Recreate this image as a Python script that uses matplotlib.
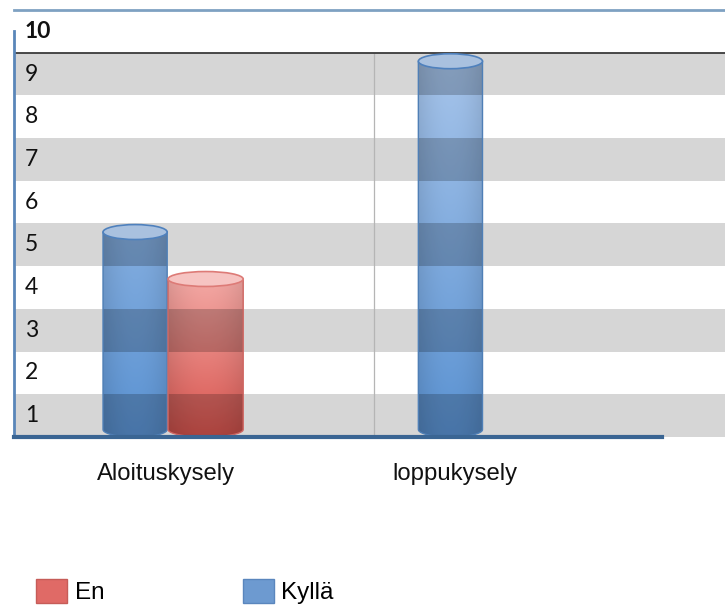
import numpy as np
import matplotlib
matplotlib.use("Agg")
import matplotlib.pyplot as plt
from matplotlib.path import Path
from matplotlib.patches import Ellipse, Rectangle, PathPatch, Patch
from matplotlib.colors import to_rgb
import matplotlib.transforms as mtransforms

# ---------------- data ----------------
categories = ["Aloituskysely", "loppukysely"]
series_names = ["En", "Kyllä"]
kylla_values = [5.3, 9.3]
en_values = [4.2]          # only the first survey has an "En" bar
y_tick_values = [1, 2, 3, 4, 5, 6, 7, 8, 9, 10]
y_tick_labels = ["1", "2", "3", "4", "5", "6", "7", "8", "9", "10"]

# ---------------- layout / style ----------------
W, H = 725, 610
fig = plt.figure(figsize=(W / 100, H / 100), dpi=100)
ax = fig.add_axes([14 / W, 173 / H, 711 / W, 427 / H])
BASE = 0.5
YTOP = 10.5
XL, XR = -0.526, 1.934
ax.set_xlim(XL, XR)
ax.set_ylim(BASE, YTOP)

grey = "#d6d6d6"
for k in y_tick_values:
    ax.axhspan(k - 0.5, k + 0.5, color=grey if k % 2 == 1 else "white", lw=0, zorder=0)
ax.axhline(9.5, color="#3a3a3a", lw=1.3, zorder=2)
ax.vlines(0.72, BASE, 9.5, color="#b5b5b5", lw=0.9, zorder=1)

ax.spines["right"].set_visible(False)
ax.spines["top"].set_color("#7ea1c2")
ax.spines["top"].set_linewidth(2)
ax.spines["left"].set_color("#5a86b9")
ax.spines["left"].set_linewidth(2)
ax.spines["left"].set_bounds(BASE, 10.0)
ax.spines["bottom"].set_color("#3a6593")
ax.spines["bottom"].set_linewidth(3)
ax.spines["bottom"].set_bounds(XL, 1.716)
ax.spines["bottom"].set_zorder(6)

ax.set_yticks([])
ax.set_xticks(range(len(categories)))
ax.set_xticklabels(categories, fontsize=17.2, family="Liberation Sans", color="#111111")
ax.tick_params(axis="x", length=0, pad=19)

ytr = mtransforms.blended_transform_factory(ax.transAxes, ax.transData)
for v, lab in zip(y_tick_values, y_tick_labels):
    ax.text(11 / 711, v, lab, transform=ytr, ha="left", va="center",
            fontsize=16.5, family="Lato", color="#111111",
            fontweight="bold" if v == 10 else "normal", zorder=7)

EH = 0.35  # ellipse height in data units


def cylinder(xc, w, top, c_low, c_high, span_top, edge, cap_face, cap_edge):
    x0, x1 = xc - w / 2, xc + w / 2
    cy = BASE + EH / 2
    th = np.linspace(np.pi, 2 * np.pi, 40)
    verts = [(x0, top), (x0, cy)]
    verts += [(xc + w / 2 * np.cos(t), cy + EH / 2 * np.sin(t)) for t in th]
    verts += [(x1, top), (x0, top)]
    codes = [Path.MOVETO] + [Path.LINETO] * (len(verts) - 2) + [Path.CLOSEPOLY]
    path = Path(verts, codes)
    ny, nx = 200, 60
    yy = np.linspace(BASE, top, ny)[:, None]
    xx = np.linspace(-1, 1, nx)[None, :]
    f = np.clip((yy - BASE) / (span_top - BASE), 0, 1)
    lo, hi = np.array(to_rgb(c_low)), np.array(to_rgb(c_high))
    img = lo[None, None, :] * (1 - f[..., None]) + hi[None, None, :] * f[..., None]
    shade = 1 - 0.10 * xx ** 2
    img = np.clip(img * shade[..., None], 0, 1)
    im = ax.imshow(img, extent=[x0, x1, BASE, top], origin="lower",
                   aspect="auto", interpolation="bilinear", zorder=3)
    im.set_clip_path(path, ax.transData)
    for k in y_tick_values:
        if k % 2 == 1:
            r = Rectangle((x0, k - 0.5), w, 1.0, facecolor="black", alpha=0.2,
                          lw=0, zorder=4)
            ax.add_patch(r)
            r.set_clip_path(path, ax.transData)
    ax.add_patch(PathPatch(path, facecolor="none", edgecolor=edge, lw=1.0, zorder=4.5))
    ax.add_patch(Ellipse((xc, top), w, EH, facecolor=cap_face, edgecolor=cap_edge,
                         lw=1.2, zorder=5))


kylla_offsets = [-0.107, -0.016]
kylla_width = 0.222
en_offsets = [0.137]
en_width = 0.26

for i, v in enumerate(kylla_values):
    cylinder(i + kylla_offsets[i], kylla_width, v, "#5a92d2", "#a6c4ea",
             max(kylla_values), "#4f7fb6", "#a9c1df", "#4f81bd")
for i, v in enumerate(en_values):
    cylinder(i + en_offsets[i], en_width, v, "#d8544e", "#f3a8a4",
             max(en_values), "#cf6662", "#f6c4c2", "#dd7b77")

ax.set_xlim(XL, XR)
ax.set_ylim(BASE, YTOP)

handles = [Patch(facecolor="#e06a66", edgecolor="#c65c58"),
           Patch(facecolor="#6d9ad0", edgecolor="#5a86bd")]
fig.legend(handles, series_names, loc="lower left",
           bbox_to_anchor=(36 / W, 6 / H), ncol=2, frameon=False,
           prop={"family": "Liberation Sans", "size": 17.5},
           handlelength=1.28, handleheight=1.15, handletextpad=0.32,
           columnspacing=5.68, borderpad=0, borderaxespad=0)

fig.savefig("out.png", dpi=100, facecolor="white")
